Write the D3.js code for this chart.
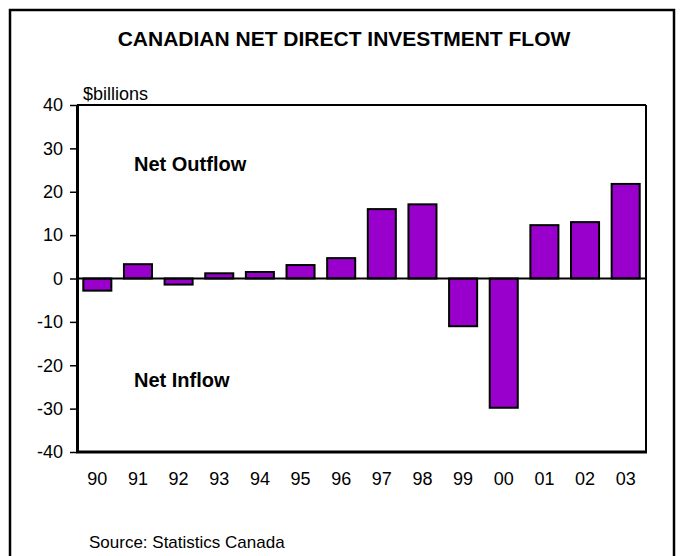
<!DOCTYPE html>
<html>
<head>
<meta charset="utf-8">
<script src="https://cdn.jsdelivr.net/npm/d3@7"></script>
<style>
  html, body { margin: 0; padding: 0; background: #fff; }
  svg { display: block; font-family: "Liberation Sans", Arial, sans-serif; }
</style>
</head>
<body>
<svg id="chart" width="683" height="556"></svg>
<script>
// Net direct investment flow, $billions (positive = net outflow)
const years = ["90", "91", "92", "93", "94", "95", "96", "97", "98", "99", "00", "01", "02", "03"];
const flows = [-2.8, 3.3, -1.4, 1.2, 1.5, 3.1, 4.7, 16.0, 17.1, -11.0, -29.8, 12.3, 13.0, 21.8];
const yTicks = [-40, -30, -20, -10, 0, 10, 20, 30, 40];

const svg = d3.select("#chart");
const plot = { left: 77, right: 646, top: 105, bottom: 452 };

// outer frame
svg.append("rect")
  .attr("x", 10).attr("y", 10)
  .attr("width", 664).attr("height", 560)
  .attr("fill", "none").attr("stroke", "#000").attr("stroke-width", 2.5);

svg.append("text")
  .attr("x", 344).attr("y", 46)
  .attr("text-anchor", "middle")
  .attr("font-size", 21).attr("font-weight", "bold")
  .text("CANADIAN NET DIRECT INVESTMENT FLOW");

const x = d3.scaleBand()
  .domain(years)
  .range([plot.left, plot.right])
  .paddingInner(0.31)
  .paddingOuter(0.155);

const y = d3.scaleLinear()
  .domain([-40, 40])
  .range([plot.bottom, plot.top]);

// plot area frame (top and right)
svg.append("line")
  .attr("x1", plot.left).attr("x2", plot.right)
  .attr("y1", plot.top).attr("y2", plot.top)
  .attr("stroke", "#000").attr("stroke-width", 2);
svg.append("line")
  .attr("x1", plot.right).attr("x2", plot.right)
  .attr("y1", plot.top).attr("y2", plot.bottom)
  .attr("stroke", "#000").attr("stroke-width", 2);

// bars
svg.append("g")
  .selectAll("rect")
  .data(years.map((yr, i) => ({ yr, v: flows[i] })))
  .join("rect")
  .attr("x", d => x(d.yr))
  .attr("width", x.bandwidth())
  .attr("y", d => y(Math.max(0, d.v)))
  .attr("height", d => Math.abs(y(d.v) - y(0)))
  .attr("fill", "#9900cc")
  .attr("stroke", "#000")
  .attr("stroke-width", 2);

// zero line
svg.append("line")
  .attr("x1", plot.left).attr("x2", plot.right)
  .attr("y1", y(0)).attr("y2", y(0))
  .attr("stroke", "#000").attr("stroke-width", 1.8);

// y axis
const yAxis = svg.append("g")
  .attr("transform", `translate(${plot.left},0)`)
  .call(d3.axisLeft(y).tickValues(yTicks).tickSize(7).tickSizeOuter(0).tickPadding(7).tickFormat(d => String(d)));
yAxis.select(".domain").attr("stroke-width", 3);
yAxis.selectAll(".tick line").attr("stroke-width", 1.5);
yAxis.selectAll(".tick text")
  .attr("font-size", 18).attr("fill", "#000")
  .attr("font-family", "Liberation Sans, Arial, sans-serif");

// x axis (labels only, thick base line)
const xAxis = svg.append("g")
  .attr("transform", `translate(0,${plot.bottom})`)
  .call(d3.axisBottom(x).tickSize(0).tickPadding(20));
xAxis.select(".domain").attr("stroke-width", 3)
  .attr("d", `M${plot.left - 1},0H${plot.right + 1}`);
xAxis.selectAll(".tick text")
  .attr("font-size", 18).attr("fill", "#000")
  .attr("font-family", "Liberation Sans, Arial, sans-serif");

// annotations
svg.append("text")
  .attr("x", 83).attr("y", 100)
  .attr("font-size", 18)
  .text("$billions");

svg.append("text")
  .attr("x", 134).attr("y", 171)
  .attr("font-size", 20).attr("font-weight", "bold")
  .text("Net Outflow");

svg.append("text")
  .attr("x", 134).attr("y", 387)
  .attr("font-size", 20).attr("font-weight", "bold")
  .text("Net Inflow");

svg.append("text")
  .attr("x", 89).attr("y", 548)
  .attr("font-size", 17)
  .text("Source: Statistics Canada");
</script>
</body>
</html>
